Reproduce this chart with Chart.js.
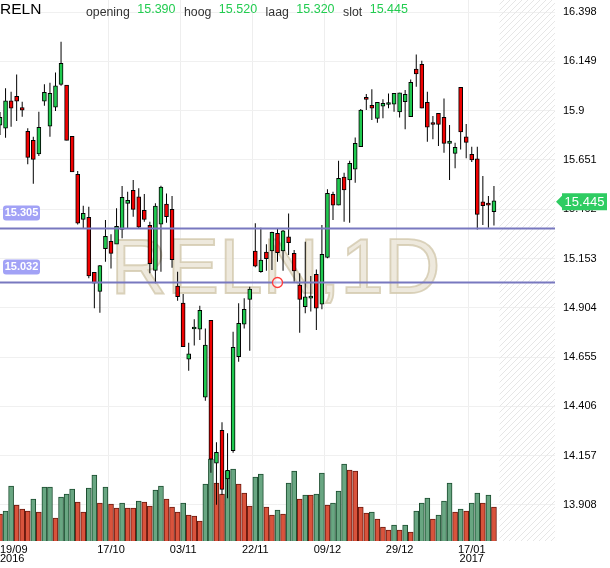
<!DOCTYPE html>
<html>
<head>
<meta charset="utf-8">
<script src="https://cdn.jsdelivr.net/npm/chart.js@4.4.1/dist/chart.umd.min.js"></script>
<style>
html,body{margin:0;padding:0;background:#fff;overflow:hidden}
#wrap{width:610px;height:568px;position:relative}
</style>
</head>
<body>
<div id="wrap"><canvas id="c" width="610" height="568"></canvas></div>
<script>
// ---------------- data ----------------
const symbol = 'RELN';
const intervalName = '1D';
const dates = [
 '19/09/2016','20/09/2016','21/09/2016','22/09/2016','23/09/2016','26/09/2016','27/09/2016','28/09/2016','29/09/2016','30/09/2016',
 '03/10/2016','04/10/2016','05/10/2016','06/10/2016','07/10/2016','10/10/2016','11/10/2016','12/10/2016','13/10/2016','14/10/2016',
 '17/10/2016','18/10/2016','19/10/2016','20/10/2016','21/10/2016','24/10/2016','25/10/2016','26/10/2016','27/10/2016','28/10/2016',
 '31/10/2016','01/11/2016','02/11/2016','03/11/2016','04/11/2016','07/11/2016','08/11/2016','09/11/2016','10/11/2016','11/11/2016',
 '14/11/2016','15/11/2016','16/11/2016','17/11/2016','18/11/2016','21/11/2016','22/11/2016','23/11/2016','24/11/2016','25/11/2016',
 '28/11/2016','29/11/2016','30/11/2016','01/12/2016','02/12/2016','05/12/2016','06/12/2016','07/12/2016','08/12/2016','09/12/2016',
 '12/12/2016','13/12/2016','14/12/2016','15/12/2016','16/12/2016','19/12/2016','20/12/2016','21/12/2016','22/12/2016','23/12/2016',
 '27/12/2016','28/12/2016','29/12/2016','30/12/2016','02/01/2017','03/01/2017','04/01/2017','05/01/2017','06/01/2017','09/01/2017',
 '10/01/2017','11/01/2017','12/01/2017','13/01/2017','16/01/2017','17/01/2017','18/01/2017','19/01/2017','20/01/2017','23/01/2017'
];
const futureSlots = 11;
const tickDates = ['19/09/2016','17/10/2016','03/11/2016','22/11/2016','09/12/2016','29/12/2016','17/01/2017'];

const opens = [
 15.827,15.811,15.950,15.972,15.915,15.795,15.750,15.681,15.948,15.821,
 15.918,16.033,16.029,15.770,15.578,15.351,15.361,15.083,14.987,15.203,
 15.240,15.226,15.300,15.432,15.497,15.465,15.396,15.321,15.093,15.326,
 15.428,15.401,15.014,14.928,14.644,14.797,14.796,14.452,14.841,14.119,
 14.285,14.039,14.182,14.657,14.822,14.947,15.191,15.086,15.186,15.192,
 15.280,15.192,15.263,15.179,15.019,14.910,14.953,15.073,14.922,15.159,
 15.477,15.422,15.565,15.550,15.604,15.718,15.967,15.927,15.861,15.923,
 15.931,15.933,15.894,15.945,15.869,16.110,16.134,15.942,15.833,15.886,
 15.866,15.735,15.684,16.018,15.768,15.679,15.656,15.440,15.432,15.390
];
const highs = [
 15.893,16.013,15.995,16.083,15.945,15.811,15.768,15.894,16.033,16.041,
 16.093,16.248,16.029,15.770,15.595,15.420,15.415,15.083,15.120,15.347,
 15.275,15.407,15.519,15.490,15.550,15.508,15.479,15.339,15.432,15.521,
 15.482,15.469,15.086,14.974,14.728,14.846,14.915,14.800,14.841,14.225,
 14.326,14.270,14.783,14.927,14.952,15.011,15.331,15.309,15.225,15.288,
 15.305,15.297,15.381,15.196,15.078,15.238,15.065,15.098,15.322,15.503,
 15.490,15.647,15.586,15.647,15.765,15.908,15.984,16.008,15.942,15.957,
 15.987,15.987,15.990,16.004,16.058,16.184,16.152,15.995,15.873,15.886,
 15.962,15.827,15.738,16.018,15.832,15.718,15.718,15.570,15.469,15.520
];
const lows = [
 15.777,15.763,15.819,15.848,15.869,15.629,15.531,15.671,15.925,15.768,
 15.898,16.026,15.750,15.590,15.325,15.306,15.053,14.902,14.879,15.137,
 15.102,15.226,15.255,15.306,15.364,15.306,15.339,15.078,15.028,15.086,
 15.334,15.107,14.940,14.708,14.586,14.713,14.741,14.435,14.071,13.909,
 13.959,13.942,14.172,14.632,14.800,14.687,15.109,15.081,15.091,15.095,
 15.137,15.091,15.171,15.036,14.778,14.876,14.885,14.792,14.897,15.154,
 15.348,15.422,15.339,15.334,15.536,15.718,15.903,15.853,15.839,15.861,
 15.912,15.894,15.866,15.806,15.869,16.021,15.912,15.743,15.755,15.721,
 15.687,15.550,15.609,15.704,15.659,15.640,15.300,15.322,15.309,15.320
];
const closes = [
 15.866,15.950,15.912,15.948,15.903,15.664,15.654,15.816,15.992,15.987,
 16.026,16.139,15.750,15.590,15.331,15.381,15.065,15.028,15.117,15.265,
 15.179,15.316,15.462,15.447,15.401,15.311,15.351,15.127,15.418,15.514,
 15.364,15.147,14.960,14.708,14.671,14.800,14.891,14.716,14.139,14.174,
 13.987,14.083,14.704,14.826,14.896,14.999,15.114,15.145,15.152,15.285,
 15.182,15.293,15.233,15.091,14.947,14.960,14.957,14.902,15.174,15.482,
 15.422,15.558,15.499,15.634,15.735,15.903,15.957,15.912,15.942,15.937,
 15.934,15.987,15.990,15.982,16.043,16.085,15.912,15.816,15.830,15.831,
 15.735,15.746,15.715,15.793,15.740,15.651,15.376,15.420,15.423,15.445
];
// volume (relative units)
const volumes = [
 27,30,55,36,32,30,42,29,54,54,
 23,44,47,52,39,29,53,66,38,54,
 37,33,38,33,33,40,39,35,51,55,
 42,34,29,38,26,25,20,57,82,58,
 47,70,72,57,48,35,64,67,34,26,
 31,27,58,70,42,46,46,47,68,36,
 38,50,77,71,70,34,28,29,22,14,
 11,16,11,16,9,30,38,43,22,26,
 40,58,29,32,30,38,48,38,46,34
];
// 1 = up volume (green), 0 = down volume (red)
const volumeUp = [
 0,1,1,0,0,0,1,0,1,1,
 0,1,1,1,0,0,1,1,0,1,
 0,0,1,0,0,1,0,0,1,1,
 0,0,0,1,0,0,0,1,1,0,
 0,1,1,0,0,0,1,1,0,0,
 1,0,1,1,0,1,0,1,1,0,
 1,1,1,0,0,0,0,1,0,0,
 0,1,0,1,0,1,1,1,0,1,
 1,1,0,1,0,1,1,0,1,0
];
const levels = [15.305, 15.032];
const priceTicks = [13.908,14.157,14.406,14.655,14.904,15.153,15.402,15.651,15.9,16.149,16.398];
const priceMin = 13.726, priceMax = 16.459;
const markerDate = '28/11/2016';
const markerValue = 15.032;
const headerNames = ['opening','hoog','laag','slot'];

// ---------------- styling ----------------
const UP = '#1fc94f', DOWN = '#f00000';
const VOL_UP = '#69a682', VOL_UP_B = '#1b4d2f';
const VOL_DN = '#d9533c', VOL_DN_B = '#6b1a0f';
const FONT = '"Liberation Sans", Arial, Helvetica, sans-serif';

const labels = dates.concat(Array(futureSlots).fill(''));
const N = dates.length;

const bodyColors = opens.map((o,i) => closes[i] >= o ? UP : DOWN);

const overlay = {
  id: 'overlay',
  beforeDraw(chart) {
    const c = chart.ctx;
    c.save(); c.fillStyle = '#fff'; c.fillRect(0,0,chart.width,chart.height); c.restore();
  },
  beforeDatasetsDraw(chart) {
    const c = chart.ctx, a = chart.chartArea, xs = chart.scales.x;
    // future hatched area
    const pc = document.createElement('canvas'); pc.width = 6; pc.height = 6;
    const p = pc.getContext('2d');
    p.strokeStyle = '#e6e6e6'; p.lineWidth = 1;
    p.beginPath(); p.moveTo(0,6); p.lineTo(6,0); p.moveTo(-1,1); p.lineTo(1,-1); p.moveTo(5,7); p.lineTo(7,5); p.stroke();
    const x0 = xs.getPixelForValue(N);
    c.save();
    c.fillStyle = c.createPattern(pc,'repeat');
    c.fillRect(x0, a.top, a.right - x0, a.bottom - a.top);
    // watermark
    c.font = '78px ' + FONT;
    c.textAlign = 'center'; c.textBaseline = 'alphabetic';
    const txt = symbol + ',' + intervalName;
    const wx = (a.left + a.right) / 2 - 2, wy = a.top + (a.bottom - a.top) * 0.542;
    c.fillStyle = 'rgba(234,228,212,0.8)';
    c.fillText(txt, wx, wy);
    c.strokeStyle = 'rgba(210,200,172,0.8)'; c.lineWidth = 1.8;
    c.strokeText(txt, wx, wy);
    c.restore();
  },
  afterDatasetsDraw(chart) {
    const c = chart.ctx, a = chart.chartArea, ys = chart.scales.y, xs = chart.scales.x;
    c.save();
    levels.forEach(v => {
      const y = Math.round(ys.getPixelForValue(v)) + 0.5;
      c.strokeStyle = '#7878bf'; c.lineWidth = 2;
      c.beginPath(); c.moveTo(a.left, y); c.lineTo(a.right, y); c.stroke();
      // label box
      c.fillStyle = '#a2a2f6';
      c.beginPath(); c.roundRect(3, y - 23, 37, 15, 3); c.fill();
      c.fillStyle = '#fff'; c.font = 'bold 11px ' + FONT;
      c.textAlign = 'center'; c.textBaseline = 'middle';
      c.fillText(v.toFixed(3), 21.5, y - 15.2);
    });
    // marker
    const mx = xs.getPixelForValue(dates.indexOf(markerDate));
    const my = ys.getPixelForValue(markerValue);
    c.beginPath(); c.arc(mx, my, 5, 0, Math.PI * 2);
    c.fillStyle = 'rgba(255,255,255,0.55)'; c.fill();
    c.strokeStyle = '#ff3b3b'; c.lineWidth = 1.3; c.stroke();
    c.restore();
  },
  afterDraw(chart) {
    const c = chart.ctx, a = chart.chartArea, ys = chart.scales.y;
    const last = N - 1;
    c.save();
    // header
    c.textAlign = 'left'; c.textBaseline = 'alphabetic';
    c.fillStyle = '#000'; c.font = '15.5px ' + FONT;
    c.fillText(symbol, 0, 14);
    const vals = [opens[last], highs[last], lows[last], closes[last]];
    let x = 86;
    headerNames.forEach((n, i) => {
      c.font = '12.3px ' + FONT; c.fillStyle = '#333';
      c.fillText(n, x, 15.5);
      x += c.measureText(n).width + 7.5;
      c.font = '12.5px ' + FONT; c.fillStyle = '#22cc50';
      const s = vals[i].toFixed(3);
      c.fillText(s, x, 13);
      x += c.measureText(s).width + 8.5;
    });
    // current price tag
    const py = ys.getPixelForValue(closes[last]) + 1;
    const bx = a.right + 7, bw = 45, bh = 17;
    c.fillStyle = '#2ecc62';
    c.beginPath();
    c.moveTo(a.right + 1, py);
    c.lineTo(bx, py - 6);
    c.lineTo(bx, py - bh / 2);
    c.lineTo(bx + bw, py - bh / 2);
    c.lineTo(bx + bw, py + bh / 2);
    c.lineTo(bx, py + bh / 2);
    c.lineTo(bx, py + 6);
    c.closePath(); c.fill();
    c.fillStyle = '#fff'; c.font = '13px ' + FONT;
    c.textAlign = 'center'; c.textBaseline = 'middle';
    c.fillText(closes[last].toFixed(3), bx + bw / 2, py + 0.5);
    c.restore();
  }
};

new Chart(document.getElementById('c'), {
  type: 'bar',
  data: {
    labels: labels,
    datasets: [
      {
        label: 'body',
        data: opens.map((o,i) => [o, closes[i]]),
        backgroundColor: bodyColors,
        borderColor: '#000', borderWidth: 1, borderSkipped: false,
        barThickness: 4, minBarLength: 2, grouped: false, order: 1, yAxisID: 'y'
      },
      {
        label: 'wick',
        data: lows.map((l,i) => [l, highs[i]]),
        backgroundColor: '#000', borderWidth: 0, inflateAmount: 0,
        barThickness: 1, grouped: false, order: 2, yAxisID: 'y'
      },
      {
        label: 'volume',
        data: volumes,
        backgroundColor: volumeUp.map(u => u ? VOL_UP : VOL_DN),
        borderColor: volumeUp.map(u => u ? VOL_UP_B : VOL_DN_B),
        borderWidth: 1, borderSkipped: 'bottom',
        barThickness: 5, grouped: false, order: 3, yAxisID: 'yv'
      }
    ]
  },
  options: {
    responsive: false,
    animation: false,
    events: [],
    layout: { padding: 0 },
    plugins: { legend: { display: false }, tooltip: { enabled: false } },
    scales: {
      x: {
        type: 'category',
        offset: false,
        border: { display: false },
        grid: {
          drawTicks: false,
          color: ctx => (ctx.index > 0 && tickDates.includes(labels[ctx.index])) ? '#eeeeee' : 'rgba(0,0,0,0)'
        },
        ticks: {
          autoSkip: false, maxRotation: 0, minRotation: 0, align: 'inner', padding: 4,
          color: '#000', font: { family: FONT, size: 11, lineHeight: 0.85 },
          callback: (v, i) => {
            const d = labels[i];
            const k = tickDates.indexOf(d);
            if (k < 0) return '';
            const [dd, mm, yy] = d.split('/');
            const showYear = k === 0 || tickDates[k - 1].slice(6) !== yy;
            return showYear ? [dd + '/' + mm, yy] : dd + '/' + mm;
          }
        },
        afterFit: s => { s.height = 27; s.paddingLeft = 0; s.paddingRight = 0; }
      },
      y: {
        position: 'right',
        min: priceMin, max: priceMax,
        border: { display: false },
        grid: { color: '#f0f0f0', drawTicks: false },
        afterBuildTicks: s => { s.ticks = priceTicks.map(v => ({ value: v })); },
        ticks: {
          padding: 8, color: '#000', font: { family: FONT, size: 11 },
          callback: v => String(+v.toFixed(3))
        },
        afterFit: s => { s.width = 55; s.paddingTop = 0; s.paddingBottom = 0; }
      },
      yv: {
        display: false,
        min: 0, max: Math.max(...volumes) * 6.6
      }
    }
  },
  plugins: [overlay]
});
</script>
</body>
</html>
